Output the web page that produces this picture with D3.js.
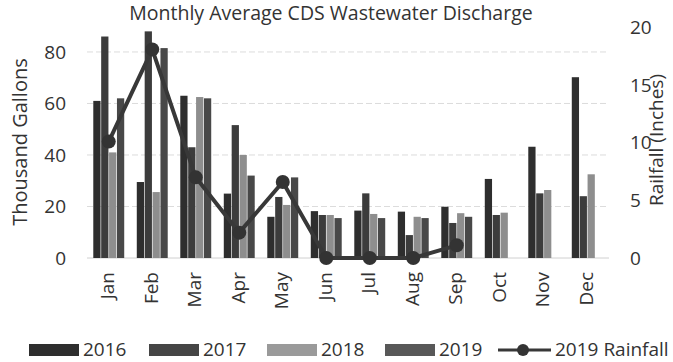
<!DOCTYPE html>
<html>
<head>
<meta charset="utf-8">
<script src="https://cdn.jsdelivr.net/npm/d3@7"></script>
<style>
  html, body { margin: 0; padding: 0; background: #fff; }
  svg { display: block; font-family: "Open Sans", "DejaVu Sans", sans-serif; }
</style>
</head>
<body>
<svg id="chart" width="673" height="362"></svg>
<script>
const months = ["Jan","Feb","Mar","Apr","May","Jun","Jul","Aug","Sep","Oct","Nov","Dec"];
const seriesNames = ["2016","2017","2018","2019"];
const v2016 = [61, 29.5, 63, 25, 16, 18.2, 18.4, 18, 19.9, 30.7, 43.2, 70.2];
const v2017 = [86, 88, 43, 51.6, 23.7, 16.7, 25.1, 8.9, 13.6, 16.7, 25.1, 24];
const v2018 = [41, 25.6, 62.5, 40, 20.6, 16.7, 17.1, 16, 17.4, 17.6, 26.4, 32.5];
const v2019 = [62, 81.5, 62, 32, 31.3, 15.5, 15.5, 15.5, 16, null, null, null];
const rain2019 = [10.1, 18.1, 7.0, 2.2, 6.6, 0, 0, 0, 1.1];
const leftTicks = [0, 20, 40, 60, 80];
const rightTicks = [0, 5, 10, 15, 20];
const titleText = "Monthly Average CDS Wastewater Discharge";
const leftTitle = "Thousand Gallons";
const rightTitle = "Railfall (Inches)";
const rainLabel = "2019 Rainfall";

const seriesValues = [v2016, v2017, v2018, v2019];
const colors = ["#2e2e2e", "#3c3c3c", "#8e8e8e", "#484848"];

const svg = d3.select("#chart");
const yBase = 258, yTop = 27.5;

const x0 = d3.scaleBand().domain(months).range([87, 609]).paddingInner(0.26).paddingOuter(0.13);
const x1 = d3.scaleBand().domain(seriesNames).range([0, x0.bandwidth()]).padding(0.08);
const yL = d3.scaleLinear().domain([0, 89.5]).range([yBase, yTop]);
const yR = d3.scaleLinear().domain([0, 20]).range([yBase, yTop]);

// gridlines
svg.append("g").selectAll("line").data(leftTicks).join("line")
  .attr("x1", 87).attr("x2", 609)
  .attr("y1", d => yL(d)).attr("y2", d => yL(d))
  .attr("stroke", d => d === 0 ? "#d0d0d0" : "#dcdcdc")
  .attr("stroke-width", 1)
  .attr("stroke-dasharray", d => d === 0 ? null : "6,3");

// bars
const groups = svg.append("g").selectAll("g").data(months).join("g")
  .attr("transform", d => `translate(${x0(d)},0)`);
groups.selectAll("rect")
  .data((m, i) => seriesNames.map((s, j) => ({s, j, v: seriesValues[j][i]})).filter(d => d.v != null))
  .join("rect")
  .attr("x", d => x1(d.s))
  .attr("width", x1.bandwidth())
  .attr("y", d => yL(d.v))
  .attr("height", d => yBase - yL(d.v))
  .attr("fill", d => colors[d.j]);

// rainfall line
const rainPts = rain2019.map((v, i) => ({m: months[i], v}));
const line = d3.line().x(d => x0(d.m) + x0.bandwidth() / 2).y(d => yR(d.v));
svg.append("path").datum(rainPts)
  .attr("d", line).attr("fill", "none")
  .attr("stroke", "#383838").attr("stroke-width", 4).attr("stroke-linejoin", "round");
svg.append("g").selectAll("circle").data(rainPts).join("circle")
  .attr("cx", d => x0(d.m) + x0.bandwidth() / 2)
  .attr("cy", d => yR(d.v))
  .attr("r", 7).attr("fill", "#333");

// left axis
const axL = d3.axisLeft(yL).tickValues(leftTicks).tickSize(0).tickPadding(0);
const gL = svg.append("g").attr("transform", "translate(66,0)").call(axL);
gL.select(".domain").remove();
gL.selectAll("text").attr("font-size", 19).attr("fill", "#333").attr("font-family", "Open Sans");

// right axis
const axR = d3.axisRight(yR).tickValues(rightTicks).tickSize(0).tickPadding(0);
const gR = svg.append("g").attr("transform", "translate(630,0)").call(axR);
gR.select(".domain").remove();
gR.selectAll("text").attr("font-size", 19).attr("fill", "#333").attr("font-family", "Open Sans");

// month labels
const axB = d3.axisBottom(x0).tickSize(0).tickPadding(0);
const gB = svg.append("g").attr("transform", `translate(0,${yBase})`).call(axB);
gB.select(".domain").remove();
gB.selectAll("text")
  .attr("font-size", 19).attr("fill", "#333").attr("font-family", "Open Sans")
  .attr("text-anchor", "end")
  .attr("transform", "translate(-1,14) rotate(-90)")
  .attr("x", 0).attr("y", 0).attr("dy", "0.35em");

// title
const t = svg.append("text").attr("x", 331).attr("y", 20)
  .attr("text-anchor", "middle").attr("font-size", 19).attr("fill", "#333")
  .text(titleText);
const tw = t.node().getComputedTextLength();
t.attr("font-size", Math.min(19.5, 19 * 432 / tw));

// axis titles
svg.append("text").attr("transform", "translate(20,142) rotate(-90)")
  .attr("text-anchor", "middle").attr("dy", "0.35em")
  .attr("font-size", 20).attr("fill", "#333").text(leftTitle);
svg.append("text").attr("transform", "translate(656,140) rotate(-90)")
  .attr("text-anchor", "middle").attr("dy", "0.35em")
  .attr("font-size", 19).attr("fill", "#333").text(rightTitle);

// legend
const legendColors = ["#2e2e2e", "#454545", "#9a9a9a", "#585858"];
const legendX = [29, 149, 267, 385];
const lg = svg.append("g");
seriesNames.forEach((s, i) => {
  lg.append("rect").attr("x", legendX[i]).attr("y", 344).attr("width", 50).attr("height", 12)
    .attr("fill", legendColors[i]);
  lg.append("text").attr("x", legendX[i] + 54).attr("y", 356)
    .attr("font-size", 19).attr("fill", "#333").text(s);
});
lg.append("line").attr("x1", 498).attr("x2", 551).attr("y1", 350).attr("y2", 350)
  .attr("stroke", "#383838").attr("stroke-width", 3);
lg.append("circle").attr("cx", 523).attr("cy", 350).attr("r", 6).attr("fill", "#333");
lg.append("text").attr("x", 555).attr("y", 356)
  .attr("font-size", 19).attr("fill", "#333").text(rainLabel);
</script>
</body>
</html>
